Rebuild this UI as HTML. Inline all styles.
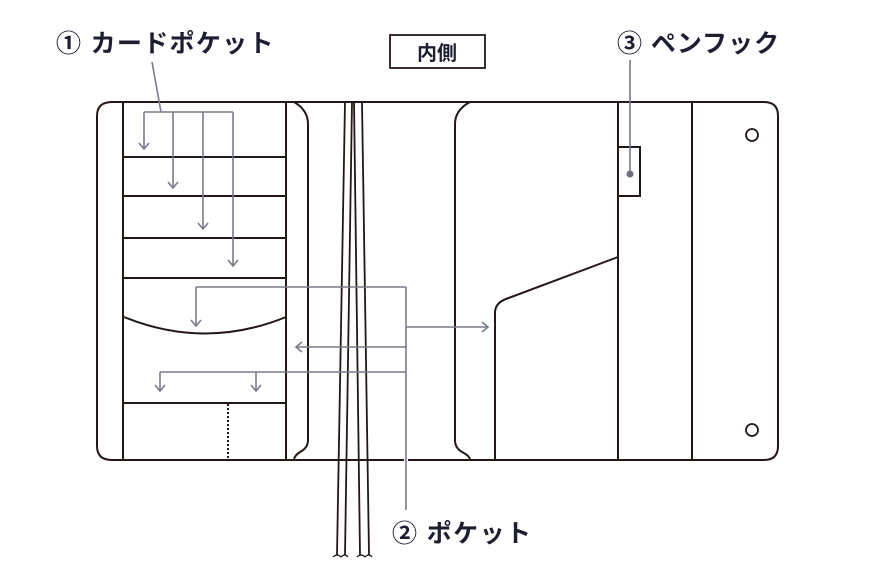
<!DOCTYPE html>
<html><head><meta charset="utf-8"><style>
html,body{margin:0;padding:0;background:#fff;}
svg{display:block;}
text{font-family:"Liberation Sans","Noto Sans CJK JP",sans-serif;font-weight:bold;fill:#1e1e33;}
</style></head><body>
<svg width="880" height="576" viewBox="0 0 880 576" xmlns="http://www.w3.org/2000/svg">
<g fill="none" stroke="#231815" stroke-width="2">
  <path d="M112,102 H764 Q778,102 778,116 V446 Q778,460 764,460 H112 Q97,460 97,446 V116 Q97,102 112,102 Z"/>
  <line x1="123" y1="102" x2="123" y2="460"/>
  <line x1="286" y1="102" x2="286" y2="460"/>
  <line x1="124" y1="157" x2="286" y2="157"/>
  <line x1="124" y1="196" x2="286" y2="196"/>
  <line x1="124" y1="238" x2="286" y2="238"/>
  <line x1="124" y1="278" x2="286" y2="278"/>
  <path d="M124,317 Q205,350 286,317"/>
  <line x1="124" y1="403" x2="286" y2="403"/>
  <line x1="228" y1="404" x2="228" y2="460" stroke-dasharray="2,2"/>
  <path d="M294,102 Q308,110 308,124 V440 Q308,448 300,452 Q294,456 294,460"/>
  <path d="M470,102 Q455,110 455,124 V440 Q455,448 462,452 Q470,456 470,460"/>
  <path d="M495,460 V313 Q495,303 506,299 L618,257"/>
  <line x1="618" y1="102" x2="618" y2="460"/>
  <line x1="692" y1="102" x2="692" y2="460"/>
  <path d="M618,147 H640 V196 H618"/>
  <circle cx="752" cy="135" r="6" stroke-width="1.8"/>
  <circle cx="752" cy="430" r="6" stroke-width="1.8"/>
  <g stroke-width="1.8">
  <path d="M345,102 L337,555"/>
  <path d="M352,102 L345,555"/>
  <path d="M354,102 L360,555"/>
  <path d="M362,102 L369,555"/>
  <path d="M333,557 Q337,553 341,557 Q345,553 348,557" stroke-width="1.2"/>
  <path d="M357,557 Q361,553 365,557 Q369,553 372,557" stroke-width="1.2"/>
  </g>
</g>
<g stroke="#fff" stroke-width="4">
  <line x1="406" y1="458" x2="406" y2="462"/>
</g>
<g fill="none" stroke="#7a7a8a" stroke-width="1.6">
  <line x1="152" y1="62" x2="161" y2="112"/>
  <line x1="144" y1="112" x2="233" y2="112"/>
  <line x1="144" y1="112" x2="144" y2="149"/>
  <line x1="173" y1="112" x2="173" y2="188"/>
  <line x1="203" y1="112" x2="203" y2="229"/>
  <line x1="233" y1="112" x2="233" y2="266"/>
  <path d="M139,143 L144,149 L149,143"/>
  <path d="M168,182 L173,188 L178,182"/>
  <path d="M198,223 L203,229 L208,223"/>
  <path d="M228,260 L233,266 L238,260"/>
  <line x1="406" y1="287" x2="406" y2="510"/>
  <line x1="196" y1="287" x2="406" y2="287"/>
  <line x1="196" y1="287" x2="196" y2="326"/>
  <path d="M191,320 L196,326 L201,320"/>
  <line x1="406" y1="327" x2="488" y2="327"/>
  <path d="M482,322 L488,327 L482,332"/>
  <line x1="296" y1="347" x2="406" y2="347"/>
  <path d="M302,342 L296,347 L302,352"/>
  <line x1="160" y1="372" x2="406" y2="372"/>
  <line x1="160" y1="372" x2="160" y2="391"/>
  <line x1="256" y1="372" x2="256" y2="391"/>
  <path d="M155,385 L160,391 L165,385"/>
  <path d="M251,385 L256,391 L261,385"/>
  <line x1="630" y1="60" x2="630" y2="174"/>
</g>
<circle cx="630" cy="174" r="3.5" fill="#6e6e80"/>
<rect x="390" y="35" width="95" height="33" fill="none" stroke="#231815" stroke-width="1.8"/>
<text x="437" y="60" font-size="20" text-anchor="middle">内側</text>
<text x="56" y="52" font-size="25" letter-spacing="2.5" textLength="220" lengthAdjust="spacing">① カードポケット</text>
<text x="617" y="52" font-size="25" textLength="162" lengthAdjust="spacing">③ ペンフック</text>
<text x="392" y="542" font-size="25" textLength="139" lengthAdjust="spacing">② ポケット</text>
</svg>
</body></html>
